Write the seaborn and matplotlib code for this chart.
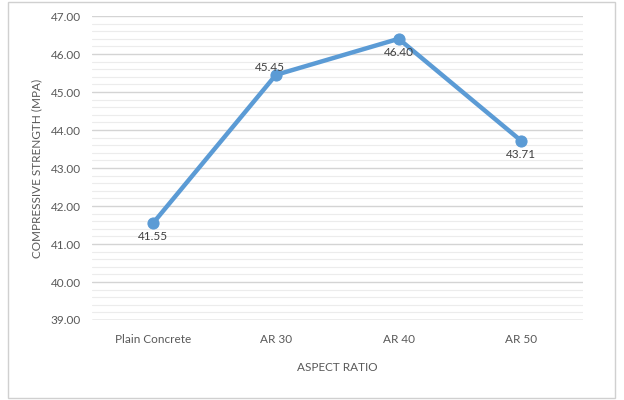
import matplotlib
matplotlib.use("Agg")
import matplotlib.pyplot as plt
import seaborn as sns
import pandas as pd
import numpy as np
from matplotlib.patches import Rectangle

categories = ["Plain Concrete", "AR 30", "AR 40", "AR 50"]
strength = [41.55, 45.45, 46.40, 43.71]
label_text = ["41.55", "45.45", "46.40", "43.71"]
label_dy = [-10, 5, -10, -10]
label_dx = [0, -4, 0, 0]

sns.set_theme(style="white")
plt.rcParams['font.family'] = ['Lato', 'DejaVu Sans']

df = pd.DataFrame({"cat": categories, "val": strength})

fig = plt.figure(figsize=(6.24, 4.0), dpi=100)
fig.patch.set_facecolor("white")
fig.patches.append(Rectangle((0.013, 0.006), 0.972, 0.99, transform=fig.transFigure,
                             fill=False, edgecolor="#d0d0d0", linewidth=1.0))
ax = fig.add_axes([0.147, 0.2, 0.787, 0.76])

sns.lineplot(data=df, x="cat", y="val", ax=ax, color="#5B9BD5", linewidth=3.2,
             marker="o", markersize=8, markeredgecolor="#5B9BD5", sort=False)

ax.set_xlim(-0.5, 3.5)
ax.set_ylim(39, 47)
ax.set_yticks(np.arange(39, 47.01, 1.0))
ax.set_yticklabels([f"{v:.2f}" for v in np.arange(39, 47.01, 1.0)])
ax.set_yticks(np.arange(39, 47.01, 0.2), minor=True)
ax.grid(axis="y", which="major", color="#d4d4d4", linewidth=1.0)
ax.grid(axis="y", which="minor", color="#ececec", linewidth=0.8)
ax.grid(axis="x", visible=False)
ax.set_axisbelow(True)
for s in ax.spines.values():
    s.set_visible(False)
ax.axhline(39, color="#c8c8c8", linewidth=1.0, zorder=0.5)
ax.tick_params(axis="both", length=0, labelsize=8.5, labelcolor="#595959", pad=8)
ax.tick_params(axis="x", pad=10)

for i, (v, t) in enumerate(zip(strength, label_text)):
    ax.annotate(t, (i, v), xytext=(label_dx[i], label_dy[i]), textcoords="offset points",
                ha="center", va="center", fontsize=8.5, color="#404040")

ax.set_xlabel("ASPECT RATIO", fontsize=8.5, color="#595959", labelpad=12)
ax.set_ylabel("COMPRESSIVE STRENGTH (MPA)", fontsize=8.5, color="#595959", labelpad=6)

fig.savefig("out.png", dpi=100, facecolor="white")
